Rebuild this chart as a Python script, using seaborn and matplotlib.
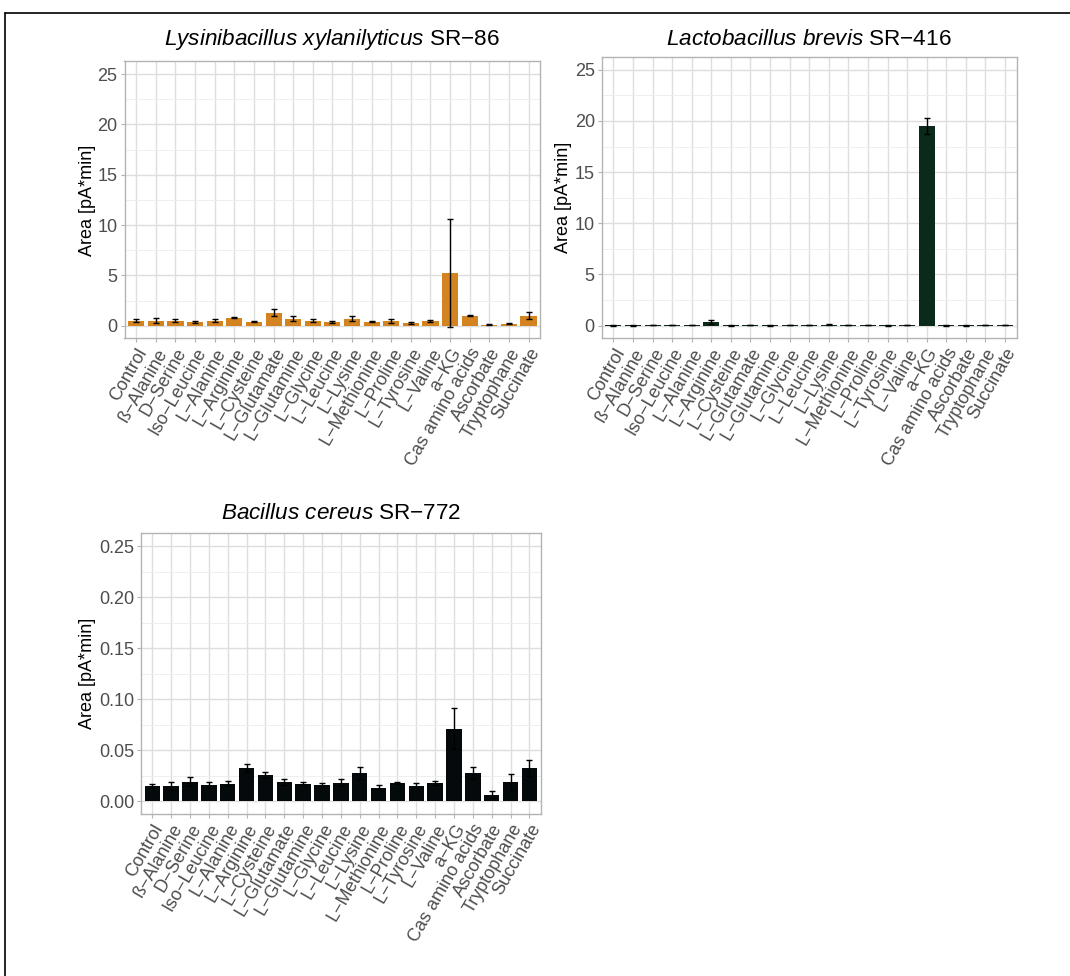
import numpy as np
import pandas as pd
import matplotlib
matplotlib.use("Agg")
import matplotlib.pyplot as plt
from matplotlib.lines import Line2D
from matplotlib.ticker import MultipleLocator, FormatStrFormatter
import seaborn as sns

# ---------------- data ----------------
conditions = ["Control", "ß\u2212Alanine", "D\u2212Serine", "Iso\u2212Leucine", "L\u2212Alanine",
              "L\u2212Arginine", "L\u2212Cysteine", "L\u2212Glutamate", "L\u2212Glutamine",
              "L\u2212Glycine", "L\u2212Leucine", "L\u2212Lysine", "L\u2212Methionine",
              "L\u2212Proline", "L\u2212Tyrosine", "L\u2212Valine", "a\u2212KG",
              "Cas amino acids", "Ascorbate", "Tryptophane", "Succinate"]

lysini_mean = [0.50, 0.50, 0.50, 0.40, 0.50, 0.80, 0.40, 1.30, 0.70, 0.50, 0.40,
               0.70, 0.40, 0.50, 0.27, 0.50, 5.20, 1.00, 0.10, 0.20, 1.00]
lysini_err = [0.18, 0.25, 0.15, 0.10, 0.15, 0.05, 0.05, 0.35, 0.25, 0.15, 0.10,
              0.25, 0.08, 0.20, 0.05, 0.10, 5.37, 0.06, 0.03, 0.05, 0.35]

lacto_mean = [0.02, 0.01, 0.04, 0.04, 0.03, 0.33, 0.03, 0.03, 0.02, 0.03, 0.03,
              0.06, 0.04, 0.02, 0.02, 0.03, 19.50, 0.03, 0.02, 0.03, 0.05]
lacto_err = [0.02, 0.01, 0.03, 0.03, 0.02, 0.20, 0.04, 0.02, 0.02, 0.02, 0.02,
             0.04, 0.03, 0.01, 0.02, 0.02, 0.80, 0.03, 0.04, 0.02, 0.03]

bacillus_mean = [0.0153, 0.0153, 0.0190, 0.0163, 0.0173, 0.0326, 0.0260, 0.0190,
                 0.0173, 0.0163, 0.0180, 0.0277, 0.0134, 0.0180, 0.0153, 0.0180,
                 0.0710, 0.0277, 0.0065, 0.0190, 0.0326]
bacillus_err = [0.0020, 0.0040, 0.0045, 0.0030, 0.0027, 0.0040, 0.0030, 0.0030,
                0.0017, 0.0017, 0.0035, 0.0060, 0.0023, 0.0008, 0.0026, 0.0016,
                0.0200, 0.0060, 0.0033, 0.0078, 0.0080]

species = ["Lysinibacillus\\ xylanilyticus", "Lactobacillus\\ brevis", "Bacillus\\ cereus"]
strains = ["SR\u221286", "SR\u2212416", "SR\u2212772"]
colors = ["#D38320", "#0B2A19", "#040A0C"]
ylabel = "Area [pA*min]"

# ---------------- style ----------------
sns.set_theme(style="white")
plt.rcParams["font.family"] = ["Liberation Sans", "DejaVu Sans"]
plt.rcParams["mathtext.fontset"] = "custom"
plt.rcParams["mathtext.rm"] = "Liberation Sans"
plt.rcParams["mathtext.it"] = "Liberation Sans:italic"

W, H = 1070, 976
fig = plt.figure(figsize=(W / 100, H / 100), dpi=100)
fig.patch.set_facecolor("white")

def rect(l, r, t, b):
    return [l / W, (H - b) / H, (r - l) / W, (b - t) / H]

panels = [
    dict(rect=rect(124.5, 540.3, 61.5, 338.3), mean=lysini_mean, err=lysini_err,
         ylim=(-1.25, 26.25), major=5, minor=2.5, fmt="%d", title_xy=(332, 45),
         ylab_x=87.5),
    dict(rect=rect(601.7, 1016.7, 57.0, 338.3), mean=lacto_mean, err=lacto_err,
         ylim=(-1.25, 26.25), major=5, minor=2.5, fmt="%d", title_xy=(809, 45),
         ylab_x=563.5),
    dict(rect=rect(141.0, 540.7, 533.3, 814.0), mean=bacillus_mean, err=bacillus_err,
         ylim=(-0.0125, 0.2625), major=0.05, minor=0.025, fmt="%.2f", title_xy=(341, 519),
         ylab_x=88.0),
]

for i, p in enumerate(panels):
    ax = fig.add_axes(p["rect"])
    df = pd.DataFrame({"cond": conditions, "val": p["mean"], "err": p["err"]})
    ax.set_axisbelow(True)
    sns.barplot(data=df, x="cond", y="val", color=colors[i], saturation=1,
                errorbar=None, width=0.82, linewidth=0, ax=ax, zorder=2)
    xs = np.arange(len(conditions))
    ax.errorbar(xs, df["val"], yerr=df["err"], fmt="none", ecolor="black",
                elinewidth=1.0, capsize=2.0, capthick=1.0, zorder=3)
    ax.set_xlim(-0.6, len(conditions) - 0.4)
    ax.set_ylim(*p["ylim"])
    ax.yaxis.set_major_locator(MultipleLocator(p["major"]))
    ax.yaxis.set_minor_locator(MultipleLocator(p["minor"]))
    ax.yaxis.set_major_formatter(FormatStrFormatter(p["fmt"]))
    ax.set_xticks(xs)
    ax.set_xticklabels(conditions, rotation=60, ha="right", va="top",
                       rotation_mode="anchor", fontsize=13, color="#4D4D4D")
    for lab in ax.get_yticklabels():
        lab.set_fontsize(13)
        lab.set_color("#4D4D4D")
    ax.grid(True, which="major", axis="both", color="#DEDEDE", linewidth=1.0, zorder=0)
    ax.grid(True, which="minor", axis="y", color="#EDEDED", linewidth=0.6, zorder=0)
    ax.tick_params(axis="both", which="major", length=3, width=0.8, color="#B3B3B3",
                   pad=2, bottom=True, left=True)
    ax.tick_params(axis="y", which="minor", length=0)
    for s in ax.spines.values():
        s.set_color("#B3B3B3")
        s.set_linewidth(1.0)
        s.set_visible(True)
    ax.set_xlabel("")
    ax.set_ylabel("")
    tx, ty = p["title_xy"]
    title = "$\\mathit{" + species[i] + "}$ " + strains[i]
    fig.text(tx / W, (H - ty) / H, title, ha="center", va="baseline",
             fontsize=16.2, color="black")
    cy = p["rect"][1] + p["rect"][3] / 2
    fig.text(p["ylab_x"] / W, cy, ylabel, rotation=90, ha="center", va="center",
             fontsize=13, color="black")

# outer frame lines (top and left)
fig.add_artist(Line2D([5 / W, 1.0], [(H - 13) / H, (H - 13) / H],
                      transform=fig.transFigure, color="black", linewidth=1.2))
fig.add_artist(Line2D([5 / W, 5 / W], [(H - 13) / H, 0.0],
                      transform=fig.transFigure, color="black", linewidth=1.2))

fig.savefig("out.png", dpi=100, facecolor="white")
